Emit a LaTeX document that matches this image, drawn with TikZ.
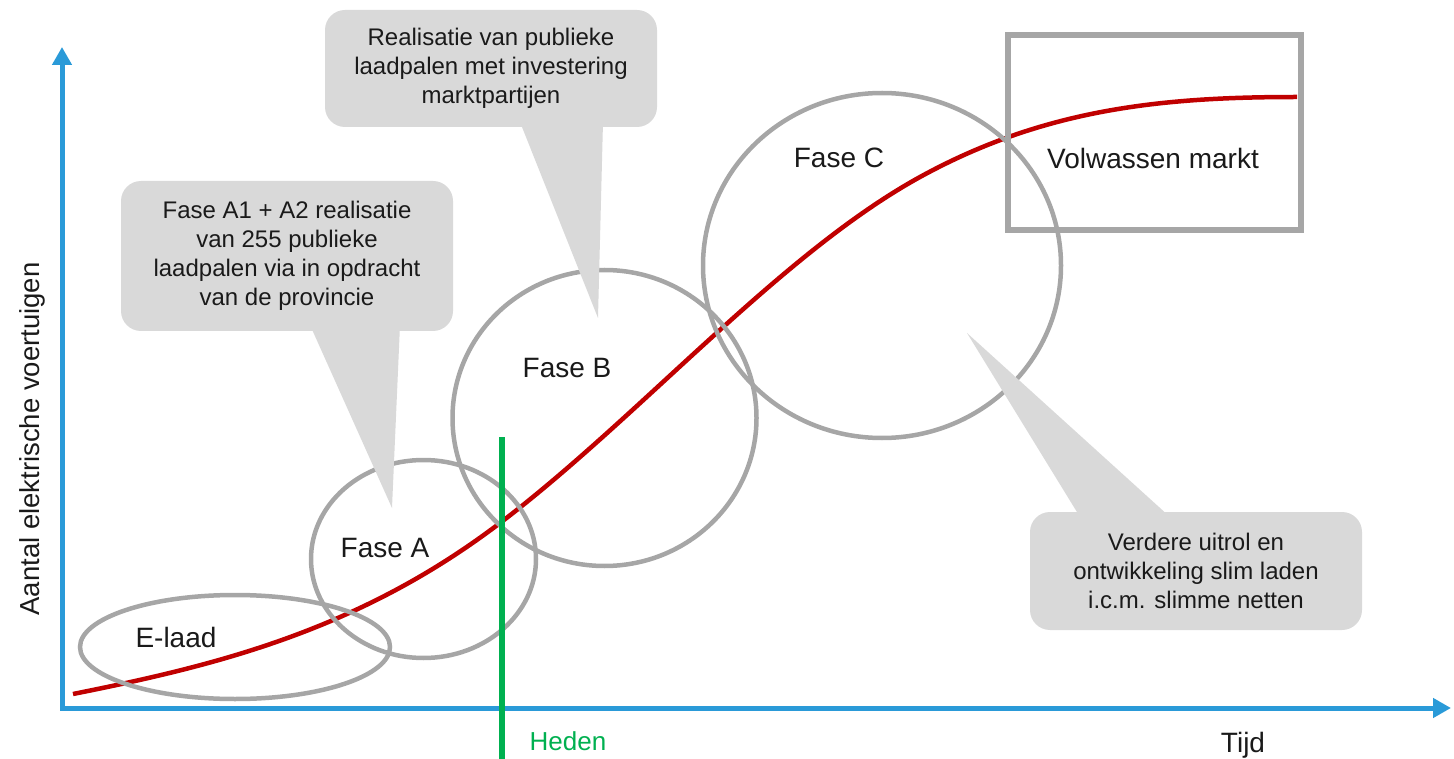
\documentclass[tikz,border=0pt]{standalone}
\usepackage{fontspec}
\setmainfont{Liberation Sans}
\usetikzlibrary{arrows.meta,shapes.geometric}
\definecolor{axisblue}{HTML}{2A9AD8}
\definecolor{curvered}{HTML}{C00000}
\definecolor{ringgray}{HTML}{A6A6A6}
\definecolor{bubblegray}{HTML}{D9D9D9}
\definecolor{hedengreen}{HTML}{00B050}
\definecolor{inkblack}{HTML}{1A1A1A}
\begin{document}
\begin{tikzpicture}[x=1pt,y=-1pt,
  axisline/.style={draw=axisblue,line width=5pt,line join=miter},
  ring/.style={ellipse,draw=ringgray,line width=4.5pt,inner sep=0pt},
  curveline/.style={draw=curvered,line width=4.5pt},
  bubble/.style={rectangle,fill=bubblegray,rounded corners=20pt,inner sep=0pt,
     align=center,text=inkblack,font=\fontsize{24}{29}\selectfont,
     minimum width=332pt},
  pointer/.style={fill=bubblegray},
  label/.style={text=inkblack,font=\fontsize{28}{32}\selectfont,inner sep=0pt},
  frame/.style={rectangle,draw=ringgray,line width=6pt,inner sep=0pt},
  hedenline/.style={draw=hedengreen,line width=6pt}]
\useasboundingbox (0,0) rectangle (1454,759);

% axes
\coordinate (ytip) at (62,47);
\coordinate (origin) at (62,708);
\coordinate (xtip) at (1451,708);
\draw[axisline,{Triangle[length=18pt,width=19pt]}-{Triangle[length=18pt,width=19pt]}] (ytip) -- (origin) -- (xtip);
\node[label,font=\fontsize{27.5}{32}\selectfont,rotate=90] (ylab) at (32,439) {Aantal elektrische voertuigen};
\node[label] (tijd) at (1243,745) {Tijd};

% S-curve
\coordinate (cstart) at (73,694);
\coordinate (cmid1) at (500,523);
\coordinate (cmid2) at (920,177);
\coordinate (cend) at (1297,97);
\draw[curveline] (cstart) .. controls (215,665.6) and (358,631) .. (cmid1)
  .. controls (640,416.6) and (780,254) .. (cmid2)
  .. controls (1045.7,107.9) and (1165,97) .. (cend);

% phases
\node[ring,minimum width=310pt,minimum height=104pt] (elaad) at (235,647) {};
\node[ring,minimum width=225pt,minimum height=198pt] (fasea) at (423.5,559) {};
\node[ring,minimum width=304pt,minimum height=296pt] (faseb) at (604.5,418) {};
\node[ring,minimum width=358pt,minimum height=345pt] (fasec) at (882,265.5) {};
\node[frame,minimum width=293pt,minimum height=195pt] (mature) at (1154.5,132.5) {};

\node[label] (elaadtxt) at (176,637) {E-laad};
\node[label] (faseatxt) at (385,548) {Fase A};
\node[label] (fasebtxt) at (567,368) {Fase B};
\node[label] (fasectxt) at (839,158) {Fase C};
\node[label] (maturetxt) at (1153,158) {Volwassen markt};

% callouts
\node[bubble,minimum height=150pt] (calla) at (287,256) {Fase A1 + A2 realisatie\\van 255 publieke\\laadpalen via in opdracht\\van de provincie};
\coordinate (tipa) at (392,508);
\fill[pointer] (310,325) -- (tipa) -- (400,325) -- cycle;

\node[bubble,minimum height=117pt] (callb) at (491,68.5) {Realisatie van publieke\\laadpalen met investering\\marktpartijen};
\coordinate (tipb) at (598,318);
\fill[pointer] (520,122) -- (tipb) -- (603,122) -- cycle;

\node[bubble,minimum height=118pt] (callc) at (1196,571) {Verdere uitrol en\\ontwikkeling slim laden\\i.c.m. slimme netten};
\coordinate (tipc) at (967,333);
\fill[pointer] (1080,517) -- (tipc) -- (1170,517) -- cycle;

% present
\coordinate (hedtop) at (502,437);
\coordinate (hedbot) at (502,759);
\draw[hedenline] (hedtop) -- (hedbot);
\node[text=hedengreen,font=\fontsize{26}{30}\selectfont,inner sep=0pt] (heden) at (568,741) {Heden};
\end{tikzpicture}
\end{document}
